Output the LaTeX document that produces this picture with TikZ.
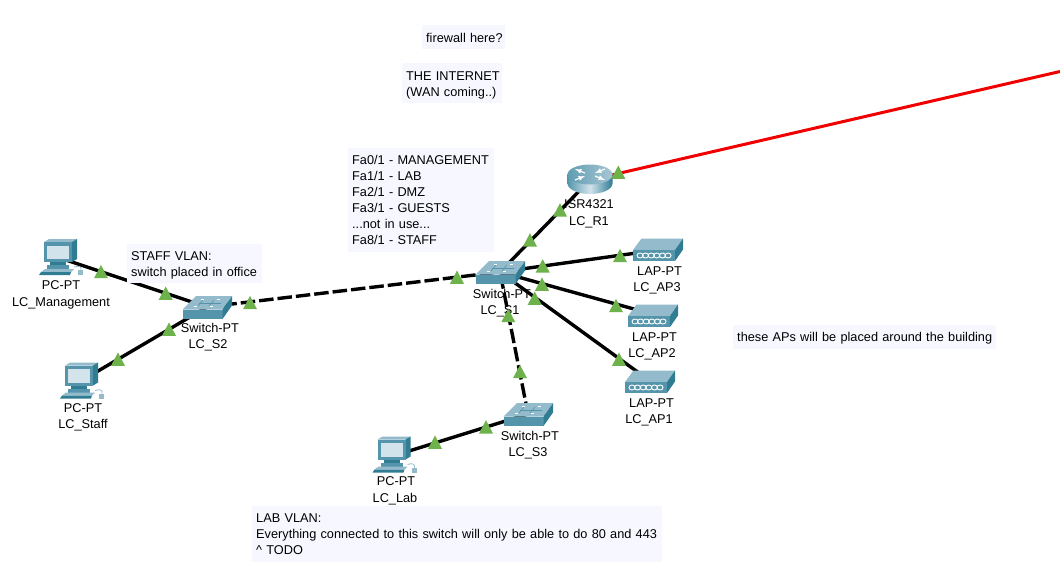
\documentclass[tikz,border=0pt]{standalone}
\usepackage{fontspec}
\setmainfont{Liberation Sans}
\definecolor{notebg}{HTML}{F7F8FF}
\definecolor{markgreen}{HTML}{6DB24B}
\definecolor{ptdark}{HTML}{2F7C93}
\definecolor{ptmid}{HTML}{5595AB}
\definecolor{ptlight}{HTML}{93BBCB}
\definecolor{ptscreen}{HTML}{D3E3EC}
\tikzset{
  x=1pt,y=-1pt,
  link/.style={line width=3.4pt,black},
  dashlink/.style={link,dash pattern=on 14.5pt off 4pt},
  wan/.style={line width=3pt,red!95!black},
  note/.style={anchor=north west,fill=notebg,inner xsep=4pt,inner ysep=0pt,align=left,
     font=\fontsize{12.74}{16}\selectfont},
  devlabel/.style={anchor=base,inner sep=0pt,font=\fontsize{12.74}{16}\selectfont},
  pics/linkmark/.style={code={\fill[markgreen] (0,-6.8)--(7,6.5)--(-7,6.5)--cycle;}},
  pics/switchicon/.style={code={
    \fill[ptlight] (-24.5,2.5)--(-11,-10.8)--(25,-10.8)--(15.5,2.5)--cycle;
    \fill[ptmid] (-24.5,2.5) rectangle (15.5,12);
    \fill[ptdark] (15.5,2.5)--(25,-10.8)--(25,-1.5)--(15.5,12)--cycle;
    \foreach \a/\b in {-13/-1,-6/-8,3/-1,10/-8}{\draw[white,line width=1pt] (\a,\b)--++(3,0);}
    \draw[ptmid,line width=.6pt] (-8,-3.5)--(14,-3.5) (-4,-7)--(-9,-1) (7,-7)--(2,-1);
  }},
  pics/apicon/.style={code={
    \fill[ptlight] (0,0)--(8.5,-11.5)--(50,-11.5)--(42,0)--cycle;
    \fill[ptmid] (0,0) rectangle (42,11);
    \fill[ptdark] (42,0)--(50,-11.5)--(50,-.5)--(42,11)--cycle;
    \foreach \c in {7,12.6,18.2,23.8,29.4,35}{\draw[white,line width=.9pt] (\c,5.5) ellipse[x radius=3,y radius=2.5];}
  }},
  pics/pcicon/.style={code={
    \fill[ptlight] (0,3)--(5,0)--(33,0)--(28,3)--cycle;
    \fill[ptdark] (28,3)--(33,0)--(33,20)--(28,23)--cycle;
    \fill[ptmid] (0,3) rectangle (28,23);
    \fill[ptscreen] (3,6.5) rectangle (25,20);
    \fill[ptdark] (6,23) rectangle (22,26);
    \fill[ptmid] (3,26) rectangle (25,30);
    \fill[ptlight] (1,30)--(30,30)--(27,33)--(-3,33)--cycle;
    \fill[ptdark] (-3,33)--(27,33)--(26,36)--(-5,36)--cycle;
    \fill[ptlight] (34,31) rectangle (39,36);
    \draw[ptlight,line width=.8pt] (30,28) .. controls (35,26) and (38,28) .. (37,31);
  }},
  pics/routericon/.style={code={
    \shade[left color=ptmid,right color=ptdark,middle color=ptscreen]
      (-22.5,-5.5) -- (-22.5,3.5) arc[start angle=180,end angle=0,x radius=22.5,y radius=10.5] -- (22.5,-5.5) -- cycle;
    \shade[left color=ptmid!80!ptlight,right color=ptlight!70!ptscreen] (0,-5.5) ellipse[x radius=22.5,y radius=10];
    \draw[white,line width=1.2pt,->,>=latex] (-5,-7) -- (-15,-11);
    \draw[white,line width=1.2pt,->,>=latex] (15,-11) -- (5,-7);
    \draw[white,line width=1.2pt,->,>=latex] (-15,0) -- (-5,-4);
    \draw[white,line width=1.2pt,->,>=latex] (5,-4) -- (15,0);
  }},
}
\begin{document}
\begin{tikzpicture}
\useasboundingbox (0,0) rectangle (1060,576);
\fill[white] (0,0) rectangle (1060,576);
% device anchors
\coordinate (mgmt) at (60,258);
\coordinate (staff) at (81,381);
\coordinate (lab) at (393,456);
\coordinate (s2) at (207,307);
\coordinate (s1) at (500,272);
\coordinate (s3) at (528,414);
\coordinate (r1) at (590,180);
\coordinate (ap3) at (658,250);
\coordinate (ap2) at (652,314);
\coordinate (ap1) at (650,381);
\coordinate (wanend) at (1060,71.5);
% connectors
\draw[link] (mgmt) -- (s2);
\draw[link] (staff) -- (s2);
\draw[link] (lab) -- (s3);
\draw[link] (s1) -- (r1);
\draw[link] (s1) -- (ap3);
\draw[link] (s1) -- (ap2);
\draw[link] (s1) -- (ap1);
\draw[dashlink,dash phase=3pt] (s2) -- (s1);
\draw[dashlink,dash phase=16pt] (s1) -- (s3);
\draw[wan] (r1) -- (wanend);
% icons
\pic at (s2) {switchicon};
\pic at (s1) {switchicon};
\pic at (s3) {switchicon};
\pic at (r1) {routericon};
\pic at (633,250) {apicon};
\pic at (628,316) {apicon};
\pic at (625,382) {apicon};
\pic at (44,239) {pcicon};
\pic at (65,362.5) {pcicon};
\pic at (377.5,436.5) {pcicon};
% notes
\node[note,minimum width=83pt,minimum height=24pt,text width=75pt] (n1) at (422,25) {\rule{0pt}{11pt}\mbox{firewall here?}};
\node[note,minimum width=100pt,minimum height=40pt,text width=92pt] (n2) at (402,63) {\rule{0pt}{12.5pt}\mbox{THE INTERNET}\\\mbox{(WAN coming..)}};
\node[note,minimum width=146pt,minimum height=104pt,text width=138pt] (n3) at (348,148) {\mbox{Fa0/1 - MANAGEMENT}\\Fa1/1 - LAB\\Fa2/1 - DMZ\\Fa3/1 - GUESTS\\...not in use...\\Fa8/1 - STAFF};
\node[note,minimum width=134.5pt,minimum height=39pt,text width=126.5pt] (n4) at (127,244) {\rule{0pt}{12.5pt}STAFF VLAN:\\\mbox{switch placed in office}};
\node[note,minimum width=263pt,minimum height=24pt,text width=255pt] (n5) at (733,325) {\rule{0pt}{11.5pt}\mbox{these APs will be placed around the building}};
\node[note,minimum width=409.5pt,minimum height=56pt,text width=401.5pt] (n6) at (252,506) {LAB VLAN:\\\mbox{Everything connected to this switch will only be able to do 80 and 443}\\\string^ TODO};
% device labels
\node[devlabel] (l1a) at (61,289.5) {PC-PT};
\node[devlabel] (l1b) at (61,306) {LC\_Management};
\node[devlabel] (l2a) at (83,412.5) {PC-PT};
\node[devlabel] (l2b) at (83,428.5) {LC\_Staff};
\node[devlabel] (l3a) at (396,485.5) {PC-PT};
\node[devlabel] (l3b) at (395,502) {LC\_Lab};
\node[devlabel] (l4a) at (210,332.5) {Switch-PT};
\node[devlabel] (l4b) at (208,348.5) {LC\_S2};
\node[devlabel] (l5a) at (502,298) {Switch-PT};
\node[devlabel] (l5b) at (500,314) {LC\_S1};
\node[devlabel] (l6a) at (530,440) {Switch-PT};
\node[devlabel] (l6b) at (528,456) {LC\_S3};
\node[devlabel] (l7a) at (589,208) {ISR4321};
\node[devlabel] (l7b) at (589,225) {LC\_R1};
\node[devlabel] (l8a) at (659.5,275) {LAP-PT};
\node[devlabel] (l8b) at (657,291) {LC\_AP3};
\node[devlabel] (l9a) at (654.5,341.5) {LAP-PT};
\node[devlabel] (l9b) at (652,357.5) {LC\_AP2};
\node[devlabel] (l10a) at (651.5,407) {LAP-PT};
\node[devlabel] (l10b) at (649,423.5) {LC\_AP1};
% link lights
\foreach \x/\y in {101/271.7,165.7/293.3,250/302.7,169/329.3,118/359.3,457/277.3,560/210,530/240,618.3/172.3,
  542.7/266,620/255.7,542/284.3,616/305.7,534.7/298.3,619/359.3,508.3/315.7,520/371.7,486/427,435/442.3}
  {\pic at (\x,\y) {linkmark};}
\end{tikzpicture}
\end{document}
